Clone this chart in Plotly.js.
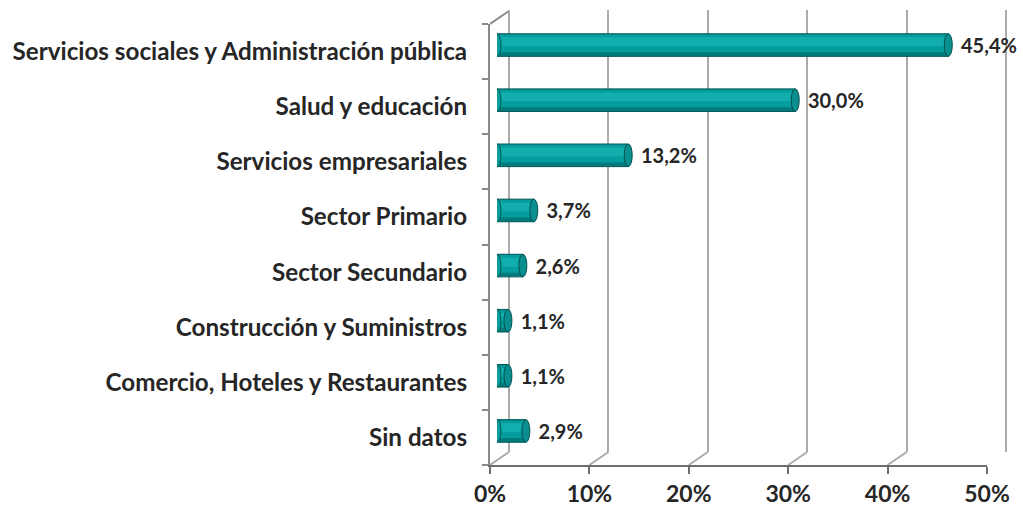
<!DOCTYPE html>
<html><head><meta charset="utf-8">
<script src="https://cdn.plot.ly/plotly-3.0.1.min.js"></script>
<style>html,body{margin:0;padding:0;background:#fff}#chart{width:1023px;height:509px}</style>
</head><body><div id="chart"></div>
<script>
const categories = ["Servicios sociales y Administración pública","Salud y educación","Servicios empresariales","Sector Primario","Sector Secundario","Construcción y Suministros","Comercio, Hoteles y Restaurantes","Sin datos"];
const values = [45.4, 30.0, 13.2, 3.7, 2.6, 1.1, 1.1, 2.9];
const tickVals = [0,10,20,30,40,50];
const tickText = ["0%","10%","20%","30%","40%","50%"];

const W = 1023, H = 509;
const px = v => v / W, py = v => 1 - v / H;
const X0 = 490, X1 = 987, YB = 465, YT = 24;
const DX = 19, DY = 13;
const FONT = "Lato, 'Open Sans', sans-serif";
const BW = 0.41;
const revCats = categories.slice().reverse();

const traces = [
  {type:'scatter', x:[null], y:[null], xaxis:'x2', yaxis:'y2', hoverinfo:'skip', showlegend:false},
  {type:'bar', orientation:'h', x: values, y: categories, xaxis:'x3', yaxis:'y3',
   width:BW, marker:{color:'#007A7A', line:{color:'#005a5a', width:1}},
   texttemplate:'  %{x:.1f}%', textposition:'outside', cliponaxis:false, constraintext:'none',
   textfont:{family:FONT, size:20, color:'#262626', weight:700}, hoverinfo:'skip'},
  {type:'bar', orientation:'h', x: values, y: categories, xaxis:'x3', yaxis:'y3',
   width:0.32, offset:-0.13, marker:{color:'#049C9C', line:{width:0}}, hoverinfo:'skip'},
  {type:'bar', orientation:'h', x: values, y: categories, xaxis:'x3', yaxis:'y3',
   width:0.16, offset:-0.02, marker:{color:'#12AEAE', line:{width:0}}, hoverinfo:'skip'}
];

const shapes = [];
tickVals.forEach(v => {
  shapes.push({type:'line', xref:'x', yref:'paper', xsizemode:'pixel', ysizemode:'pixel',
    xanchor:v, yanchor:py(YB), x0:0, x1:DX, y0:0, y1:DY, line:{color:'#ABABAB', width:2}, layer:'below'});
});
shapes.push({type:'line', xref:'x', yref:'paper', xsizemode:'pixel', ysizemode:'pixel',
  xanchor:0, yanchor:py(YT), x0:0, x1:DX, y0:0, y1:DY, line:{color:'#8A8A8A', width:2}, layer:'below'});
shapes.push({type:'line', xref:'paper', yref:'paper', x0:px(X1+DX), x1:px(X1+DX), y0:py(YB-DY), y1:py(YT-DY-1),
  line:{color:'#ABABAB', width:2}, layer:'below'});
// cylinder end caps (left and right ellipses) on the bar axes
values.forEach((v, i) => {
  const idx = revCats.indexOf(categories[i]);
  shapes.push({type:'circle', xref:'x3', yref:'y3', xsizemode:'pixel', xanchor:0, x0:-4, x1:4,
    y0: idx - BW/2, y1: idx + BW/2, fillcolor:'#0A9E9E', line:{color:'#005a5a', width:1}, layer:'above'});
  shapes.push({type:'circle', xref:'x3', yref:'y3', xsizemode:'pixel', xanchor:v, x0:-4, x1:4,
    y0: idx - BW/2, y1: idx + BW/2, fillcolor:'#0B8E8E', line:{color:'#004f4f', width:1}, layer:'above'});
});

const layout = {
  width: W, height: H, margin:{l:0,r:0,t:0,b:0},
  paper_bgcolor:'#fff', plot_bgcolor:'rgba(0,0,0,0)',
  separators:',.', showlegend:false, barmode:'overlay',
  font:{family:FONT, color:'#262626'},
  xaxis:{domain:[px(X0), px(X1)], range:[0,50], anchor:'y', tickmode:'array', tickvals:tickVals, ticktext:tickText,
    showgrid:false, zeroline:false, showline:true, linecolor:'#6E6E6E', linewidth:2,
    ticks:'outside', ticklen:7, tickwidth:2, tickcolor:'#6E6E6E',
    tickfont:{size:23, weight:700, color:'#262626'}, ticklabelstandoff:0, fixedrange:true},
  yaxis:{domain:[py(YB), py(YT)], anchor:'x', type:'category', categoryorder:'array',
    categoryarray: revCats, autorange:false, range:[-0.5, 7.5],
    showgrid:false, zeroline:false, showline:true, linecolor:'#8A8A8A', linewidth:2,
    ticks:'outside', ticklen:6, tickwidth:2, tickcolor:'#8A8A8A', tickson:'boundaries',
    tickfont:{size:24.2, weight:700, color:'#262626'}, ticklabelstandoff:16, fixedrange:true},
  xaxis2:{domain:[px(X0+DX), px(X1+DX)], range:[0,50], anchor:'y2', tickvals:tickVals,
    showgrid:true, gridcolor:'#ABABAB', gridwidth:2, zeroline:true, zerolinecolor:'#ABABAB', zerolinewidth:2,
    showline:false, showticklabels:false, ticks:'', fixedrange:true},
  yaxis2:{domain:[py(YB-DY), py(YT-DY-1)], anchor:'x2', range:[0,1], visible:false, fixedrange:true},
  xaxis3:{domain:[px(X0+7), px(X1+7)], range:[0,50], anchor:'y3', visible:false, fixedrange:true},
  yaxis3:{domain:[py(YB-6.5), py(YT-6.5)], anchor:'x3', type:'category', categoryorder:'array',
    categoryarray: revCats, autorange:false, range:[-0.5, 7.5], visible:false, fixedrange:true},
  shapes: shapes
};

Plotly.newPlot('chart', traces, layout, {displayModeBar:false, staticPlot:true});
</script></body></html>
